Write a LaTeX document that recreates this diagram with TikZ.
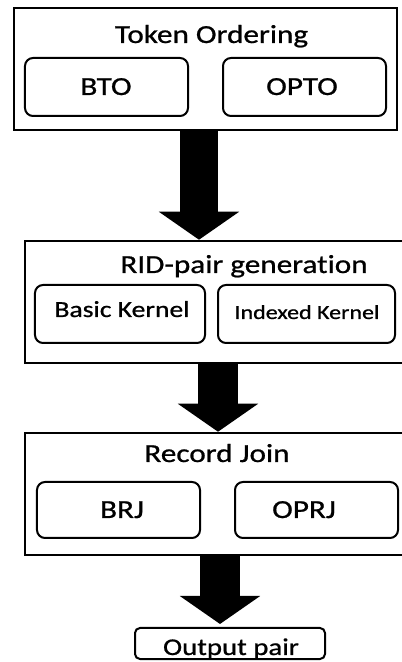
\documentclass[tikz,border=0pt]{standalone}
\usepackage{fontspec}
\setmainfont{Carlito}[FakeStretch=1.2,FakeBold=0.8,Ligatures=NoCommon]
\usetikzlibrary{arrows.meta,positioning}

\begin{document}
\begin{tikzpicture}[x=1bp,y=1bp,
  stage/.style={draw,line width=2.5bp,minimum height=122bp,inner sep=0pt},
  part/.style={draw,line width=2bp,rounded corners=8bp,minimum height=58bp,inner sep=0pt},
  title/.style={anchor=base,font=\fontsize{26bp}{28bp}\selectfont},
  label/.style={anchor=base,font=\fontsize{26bp}{28bp}\selectfont},
  bigarrow/.style={line width=#1,-{Triangle[length=28bp,width=79bp]}},
]
\useasboundingbox (0,0) rectangle (401,662);
\fill[white] (0,0) rectangle (401,662);

% token ordering
\node (tok) [stage,minimum width=383bp] at (205.5,593) {};
\node (toktitle) [title] at (211.5,619) {Token Ordering};
\node (bto) [part,minimum width=163bp] at (106.5,575) {};
\node (btotext) [label] at (106,567) {BTO};
\node (opto) [part,minimum width=163bp] at (304.5,575) {};
\node (optotext) [label] at (302,567) {OPTO};

% rid-pair generation
\node (rid) [stage,minimum width=378bp] at (214,360) {};
\node (ridtitle) [label] at (244,389) {RID-pair generation};
\node (basic) [part,minimum width=170bp] at (120,348) {};
\node (basictext) [label,font=\fontsize{23bp}{25bp}\selectfont] at (122,345) {Basic Kernel};
\node (indexed) [part,minimum width=177bp] at (306.5,348) {};
\node (indexedtext) [label,font=\fontsize{20bp}{22bp}\selectfont] at (307,343) {Indexed Kernel};

% record join
\node (rec) [stage,minimum width=378bp] at (214,168) {};
\node (rectitle) [label] at (217,200) {Record Join};
\node (brj) [part,minimum width=163bp,minimum height=56bp] at (118.5,152) {};
\node (brjtext) [label] at (122,144) {BRJ};
\node (oprj) [part,minimum width=163bp,minimum height=56bp] at (316.5,152) {};
\node (oprjtext) [label] at (304,144) {OPRJ};

% output
\node (out) [part,rounded corners=5bp,minimum width=190bp,minimum height=31bp] at (230,18.5) {};
\node (outtext) [label,font=\fontsize{24bp}{26bp}\selectfont] at (231,7) {Output pair};

% arrows
\coordinate (a1) at (199,0);
\coordinate (a2) at (218,0);
\coordinate (a3) at (220,0);
\draw[bigarrow=38bp] (tok.south -| a1) -- (rid.north -| a1);
\draw[bigarrow=40bp] (rid.south -| a2) -- (rec.north -| a2);
\draw[bigarrow=40bp] (rec.south -| a3) -- ([yshift=3bp]out.north -| a3);
\end{tikzpicture}
\end{document}
